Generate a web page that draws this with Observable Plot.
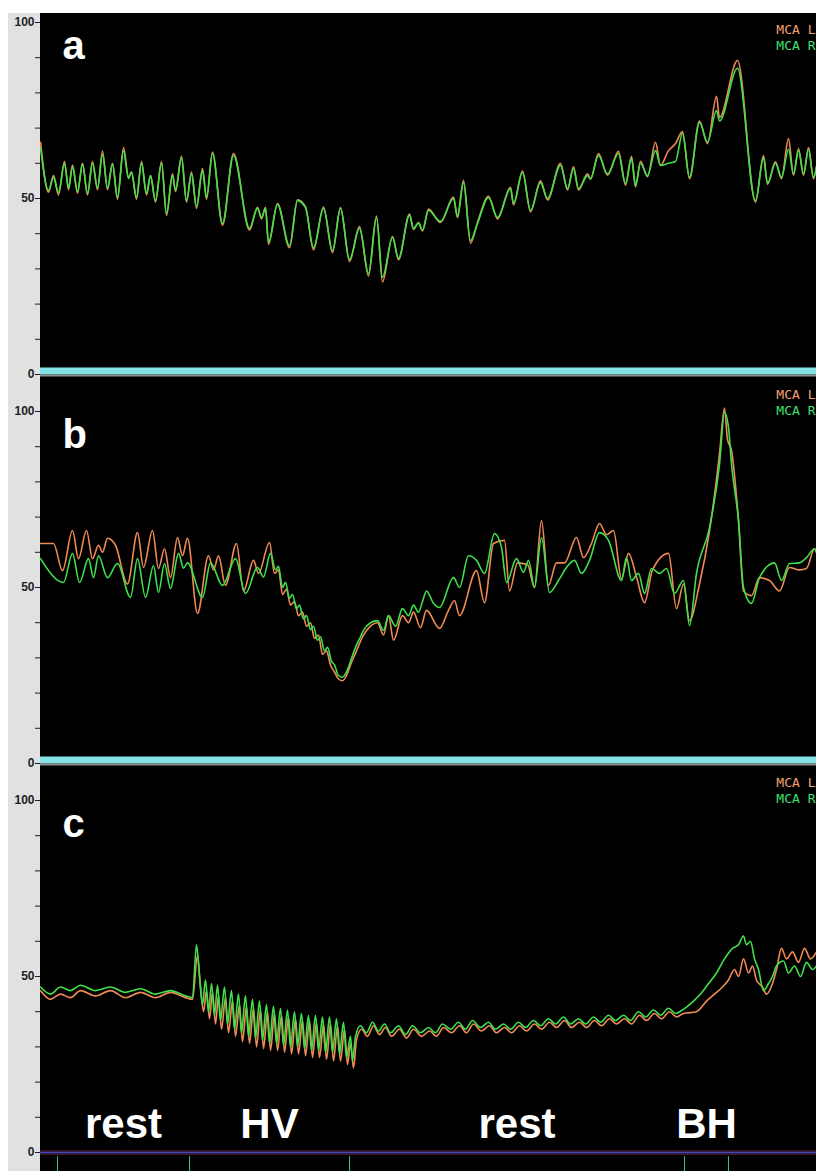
<!DOCTYPE html>
<html>
<head>
<meta charset="utf-8">
<script src="https://cdn.jsdelivr.net/npm/d3@7"></script>
<script src="https://cdn.jsdelivr.net/npm/@observablehq/plot@0.6"></script>
<style>
  body { margin: 0; background: #fff; }
  #wrap { position: relative; width: 816px; height: 1171px; overflow: hidden; background: #fff; }
  #gutter { position: absolute; left: 8px; top: 13px; width: 32px; height: 1158px; background: #e1e1e1; }
  #screen { position: absolute; left: 40px; top: 13px; width: 776px; height: 1158px; background: #000; }
  #wrap svg { position: absolute; left: 0; top: 0; }
</style>
</head>
<body>
<div id="wrap"><div id="gutter"></div><div id="screen"></div></div>
<script>
// Three recordings of MCA flow velocity (cm/s) over time (s), two probes each.
const panels = ["a", "b", "c"];
const probes = ["MCA L", "MCA R"];
const yTicks = [0, 10, 20, 30, 40, 50, 60, 70, 80, 90, 100];

// Protocol markers (s) and the phases between them
const eventTimes = [28.5, 94.5, 174.5, 342, 364];
const phaseNames = ["rest", "HV", "rest", "BH"];

// Panel a: both probes sampled at the same instants
const aTime = [20,24,26.5,29,32,34,36,38.5,41,43.5,46,48.5,51,53.5,56,58.5,61.5,64,65.5,68,70.5,73,75,77.5,80.5,83,86,87.5,90.5,93,95.5,98,101,103,106,111,116.5,124.5,128.5,130.5,132.5,134,138.5,144.5,148.5,152.5,156.5,161.5,166,170,174.5,179.5,184,188,191,196,199,204.5,206.5,209,211,214,220,226.5,228.5,231.5,235,238.5,244,248.5,255,256.5,261,265,270,273.5,280,283.5,286.5,289,293.5,295,299,303.5,309,312.5,315.5,317.5,320,323.5,327.5,330,334,337.5,341,344.5,349.5,353.5,358,359.5,368.5,377.5,381.5,383.5,387.5,390.5,394,396.5,399,401.5,404,406.5,408];
const aLeft = [66,51.8,56.5,51,60.5,52.5,59.5,51.5,60,51,60.5,52.5,63.5,52.5,60,49.8,64.5,56,57.5,49.8,60.5,51,56.5,49,60.5,45.2,57,52,62,49,57.5,47.2,58.5,49.8,63.2,42.4,62.8,41,47.5,44.2,47.5,37,48.6,36,49.6,47.6,35.4,47.6,34.6,47.4,32.1,42,28,45,26.3,39.2,32.6,45.6,41.2,43.2,40.8,47,43.2,50.4,44.6,55.2,37.3,43.2,50.6,44.2,53.2,48.2,57.8,46.2,55,49.6,60,52.4,59,52.4,57,55.6,62.8,56.6,63.4,53.8,62,53.3,60.6,56.2,66,59.4,63.6,65.6,69,55.6,72,65.6,79,73,89.2,49,62.2,54,60.4,55.6,67,56.6,64.2,56.6,64.5,55.6,59.2];
const aRight = [64.5,52.3,56,51.7,60,53,59,52,59.7,51.4,60,53,62.5,53,59.7,50.3,63.6,55.7,57.5,50.3,60,51.4,56.5,49.4,60,45.7,56.5,52.3,61.6,49.4,57,47.7,58,50.3,62.8,42.9,62.2,41.5,47.2,44.6,47.2,37.5,48.3,36.6,49.4,47.4,36,47.2,35.2,47.2,32.7,41.5,28.7,44.6,27.6,38.9,33,45.2,41.5,43,41,46.6,43.5,50,45,54.5,38,42.9,50.3,44.6,52.8,48.6,57.4,46.6,54.5,50,59.4,52.8,58.5,52.8,56.5,55.5,62.2,57,62.8,54.3,61.4,53.7,60,56.5,63.6,59.4,60,60.5,68.5,56,71.6,66,75,72,87,49.4,61.6,54.3,60,56,64,57,63.6,57,64,56,58.8];

// Panel b: [time, velocity]
const bLeft = [[20,62.5],[26.5,62.5],[31,54.8],[36,66.2],[39,58.2],[43,66.2],[46,58.2],[49,62],[51,60],[53.5,64],[57.5,62],[63.5,51],[68.5,65.6],[71.5,55.7],[76,66.2],[79,55.4],[82,61],[85,52.8],[88.5,64.2],[91,59],[93.5,64],[98.5,42.6],[104,59],[106.5,55],[109,59],[112.5,50.6],[118,62.5],[121.5,49],[126.5,57.7],[129,54],[134.5,62.8],[137,54],[139,55],[141,48],[143,49.5],[145,45],[147,46],[149,42],[151,43],[153,39],[155,40],[157,35.5],[159,36.5],[161,31],[163,32],[165,28],[167,26],[169,24],[171,23.5],[173,25],[175,28],[178,32],[181,36],[185,39],[188.5,40],[191.5,36.5],[194,42],[196.5,35],[201,42],[204,40],[206.5,43],[210,38.6],[213,43.5],[219.5,38.4],[224,43.5],[227,46.3],[229.5,42],[238,54.8],[242,45.7],[246.5,62.5],[252,63.4],[254.5,49],[258.5,57],[263.5,56.5],[267,50],[270.5,69],[274,50.6],[278,57],[282,57],[288,64.2],[291.5,58.5],[295.5,62.5],[299.5,68.2],[303,65],[306.5,66.2],[310.5,52.5],[314,59.7],[318,53],[322,45.7],[326,55],[334,59.7],[338,44],[341.5,51],[344.5,40.6],[349.5,51],[354.5,66],[359.5,88],[362,101],[363.5,92],[365.5,89],[369,69],[371.5,49],[375.5,47.7],[379.5,52.8],[384.5,52],[389.5,49],[394.5,55.7],[399.5,55],[403,55.4],[407,61],[408,60]];
const bRight = [[20,58.2],[31.5,51.4],[36,59.7],[39.5,51.4],[44,58.2],[46.5,52.8],[49,59],[53.5,52.8],[58.5,56.8],[65,47.2],[68.5,58.2],[72.5,47.2],[76.5,56.2],[79,48.6],[82,56.8],[85,49.7],[89,59.7],[91.5,55.5],[93.5,57],[101,47.2],[105,57],[111,50.6],[117.5,58.2],[122.5,48.3],[128.5,55.7],[131.5,53],[135,59.7],[137.5,55],[139,56],[141,50],[142.5,51.5],[144.5,47],[146,48],[148,44],[149.5,45],[151.5,41],[153,42],[155,38],[156.5,39],[158.5,35],[160,36],[162,32],[163.5,33],[165.5,29],[167,28],[169,25],[171,24.5],[173,26],[175,29],[177.5,33],[180,36],[181.5,37.8],[185,40],[188.5,40.6],[191.5,37.8],[194,42],[197.5,39],[201,44],[204,42],[206.5,45],[209,43],[211,46],[213,49],[216.5,45.5],[219.5,44.3],[226.5,52.8],[229.5,50],[234,59],[238,57.7],[242,54],[247,65.3],[250.5,61.4],[253,51.4],[258,58.2],[261.5,54.3],[264,57.7],[267,50],[270.5,64.2],[274.5,48.6],[279,52],[283,55.7],[287,57.7],[290.5,54],[294.5,57.7],[299.5,65.6],[304,63.4],[310.5,52],[313,58.5],[315.5,52],[319,54],[322,48.3],[325.5,55.4],[329.5,54],[333,55.4],[337,48.3],[341.5,52],[344.5,39.2],[348,54],[354.5,67],[359.5,85],[362,99.7],[364,95.5],[365.5,85],[369,69],[371.5,50],[375.5,45.5],[379.5,52.8],[387,57],[390.5,52],[394.5,56.8],[399.5,57],[403,58.5],[407,61],[408,60]];

// Panel c: [time, velocity]
const cLeft = [[20,46],[25,43.5],[30,45],[35,44],[40,46],[47.5,44.5],[55,46],[62.5,44],[70,45.5],[77.5,44],[85,45.5],[92.5,44],[96,43.5],[98.5,56],[100,47],[101.5,40],[103,46],[104.5,38],[106,45.5],[107.5,36.5],[109,44.5],[110.5,35],[112.5,44],[114,34],[116,43],[117.5,33],[119.5,42],[121,31.5],[123,41.5],[124.5,31],[126.5,41],[128,30],[130,40.5],[131.5,29.5],[133.5,40],[135,29],[137,39.5],[138.5,29],[140.5,39],[142,28.5],[144,38.5],[145.5,28],[147.5,38],[149,28],[151,37.5],[152.5,27.5],[154.5,37.5],[156,27],[158,37],[159.5,27],[161.5,36.5],[163,26.5],[165,36.5],[166.5,26],[168.5,36],[170,26],[172,35],[173.5,25],[175,31],[176.5,24],[178,32],[180.5,35],[183.5,33],[186.5,36],[189.5,33.5],[192.5,35.5],[195.5,33],[199.5,35],[203,32.5],[206.5,35],[210.5,33],[214.5,34.5],[218,33],[221.5,35.5],[225.5,34],[229.5,36],[233,34],[236.5,36.5],[240.5,34.5],[244.5,36],[248,34],[252,35.5],[255.5,34],[259.5,36],[263,34.5],[267,36.5],[270.5,35],[274.5,37],[278,35.5],[282,37.5],[285.5,35.5],[289.5,37],[293,35.5],[297,37.5],[300.5,36],[304.5,38],[308,36.5],[312,38],[315.5,36.5],[319.5,39],[323,37.5],[327,39.5],[330.5,38],[334.5,40],[338,38.5],[341.5,39.5],[348,40],[353,43],[357,45],[361,47],[364,49],[367,52],[369,50],[371.5,55],[374,51],[376,53],[378,49],[381,47],[383,45],[386,48],[388,52],[390.5,58],[393,55],[396,57],[399,54],[402,58],[405,55],[408,57]];
const cRight = [[20,47],[25,45],[30,47],[35,46],[40,47.5],[47.5,46],[55,47],[62.5,45.5],[70,46.5],[77.5,45],[85,46],[92.5,44.5],[96,44],[98,59],[99.5,50],[101,42],[102.5,49],[104,40],[105.5,48],[107,39],[108.5,47.5],[110,37.5],[112,47],[113.5,36.5],[115.5,46],[117,35],[119,45],[120.5,34],[122.5,44.5],[124,33],[126,43.5],[127.5,32.5],[129.5,43],[131,32],[133,42],[134.5,31],[136.5,41.5],[138,31],[140,41],[141.5,30.5],[143.5,40.5],[145,30],[147,40],[148.5,30],[150.5,39.5],[152,29.5],[154,39],[155.5,29],[157.5,39],[159,29],[161,38.5],[162.5,28.5],[164.5,38.5],[166,28.5],[168,38],[169.5,28],[171.5,37],[173,27],[175,33],[176,26],[177.5,33],[180,36],[183,34],[186,37],[189,34.5],[192,36.5],[195,34],[199,36],[202.5,33.5],[206,36],[210,34],[214,35.5],[217.5,34],[221,36.5],[225,35],[229,37],[232.5,35],[236,37.5],[240,35.5],[244,37],[247.5,35],[251.5,36.5],[255,35],[259,37],[262.5,35.5],[266.5,37.5],[270,36],[274,38],[277.5,36.5],[281.5,38.5],[285,36.5],[289,38],[292.5,36.5],[296.5,38.5],[300,37],[304,39],[307.5,37.5],[311.5,39],[315,37.5],[319,40],[322.5,38.5],[326.5,40.5],[330,39],[334,41],[337.5,39.5],[341,40.5],[346.5,43],[350,45],[354,48],[358,51],[362,55],[366,58],[369,59],[371.5,61.5],[373,59],[375,60],[377,55],[379,52],[381.5,46],[384,48],[386,50],[388,53],[391.5,54.4],[394,51],[397,53],[400,50],[403,54],[406,52],[408,53]];

// ---- tidy rows for Plot ----
const rows = [];
aTime.forEach((t, i) => {
  rows.push({panel: "a", probe: probes[0], t, v: aLeft[i]});
  rows.push({panel: "a", probe: probes[1], t, v: aRight[i]});
});
const addPairs = (panel, probe, pairs) => pairs.forEach(([t, v]) => rows.push({panel, probe, t, v}));
addPairs("b", probes[0], bLeft);
addPairs("b", probes[1], bRight);
addPairs("c", probes[0], cLeft);
addPairs("c", probes[1], cRight);

const phases = phaseNames.map((name, i) => ({panel: "c", name, start: eventTimes[i], end: eventTimes[i + 1]}));
const events = eventTimes.map(t => ({panel: "c", t}));

const colors = {"MCA L": "#f08a55", "MCA R": "#3fe04a"};
const legendColors = {"MCA L": "#f4a070", "MCA R": "#3fe070"};
// baseline of the first legend line relative to each panel's top edge (16 px per line)
const legendTop = {a: 11, b: -13, c: -14};

const sep = panels.slice(0, 2).map(panel => ({panel}));
const base = [{panel: "c"}];
const sans = "Liberation Sans, Arial, Helvetica, sans-serif";

const marks = [
  // cyan separators under panels a and b
  Plot.ruleY(sep, {y: () => 0, fy: "panel", stroke: "#84e2e6", strokeWidth: 7, dy: -3.5}),
  Plot.ruleY(sep, {y: () => 0, fy: "panel", stroke: "#8c9294", strokeWidth: 2, dy: 1}),
  // baseline of panel c
  Plot.ruleY(base, {y: () => 0, fy: "panel", stroke: "#4b0f14", strokeWidth: 1, dy: -2}),
  Plot.ruleY(base, {y: () => 0, fy: "panel", stroke: "#4b0f14", strokeWidth: 1, dy: 2}),
  Plot.ruleY(base, {y: () => 0, fy: "panel", stroke: "#4646b4", strokeWidth: 2}),
  // event markers under the time line
  Plot.ruleX(events, {x: "t", fy: "panel", y1: -1.2, y2: -6, stroke: "#3fbf8a", strokeWidth: 1}),
  // velocity traces
  ...probes.map(p => Plot.line(rows.filter(d => d.probe === p), {
    x: "t", y: "v", fy: "panel", stroke: colors[p], strokeWidth: 1.6, curve: "monotone-x"
  })),
  // panel letters
  Plot.text(panels.map(panel => ({panel})), {
    fy: "panel", text: "panel", frameAnchor: "top-left", textAnchor: "start", lineAnchor: "bottom",
    dx: 22, dy: 36, fill: "white", fontSize: 40, fontWeight: "bold", fontFamily: sans
  }),
  // phase labels
  Plot.text(phases, {
    fy: "panel", x: d => (d.start + d.end) / 2, text: "name", frameAnchor: "bottom", lineAnchor: "bottom",
    dy: -15, fill: "white", fontSize: 42, fontWeight: "bold", fontFamily: sans
  }),
  // probe legends, top right of each panel
  ...panels.flatMap(panel => probes.map((p, i) => Plot.text([{panel, label: p}], {
    fy: "panel", text: "label", frameAnchor: "top-right", textAnchor: "end", lineAnchor: "bottom",
    dx: -1, dy: legendTop[panel] + i * 16, fill: legendColors[p], fontSize: 13, fontWeight: "normal",
    fontFamily: "DejaVu Sans Mono, monospace"
  })))
];

const chart = Plot.plot({
  width: 816,
  height: 1171,
  marginLeft: 40,
  marginRight: 0,
  marginTop: 22,
  marginBottom: 19,
  style: {background: "transparent", color: "#1e1e1e", fontFamily: sans, fontWeight: "bold", fontSize: "12px", overflow: "hidden"},
  x: {domain: [20, 408], axis: null},
  y: {domain: [0, 100], ticks: yTicks, tickFormat: d => (d % 50 === 0 ? String(d) : ""), tickSize: 5, tickPadding: 1, label: null},
  fy: {domain: panels, axis: null, paddingInner: 37 / 389, paddingOuter: 0},
  marks
});
document.getElementById("wrap").appendChild(chart);
</script>
</body>
</html>
